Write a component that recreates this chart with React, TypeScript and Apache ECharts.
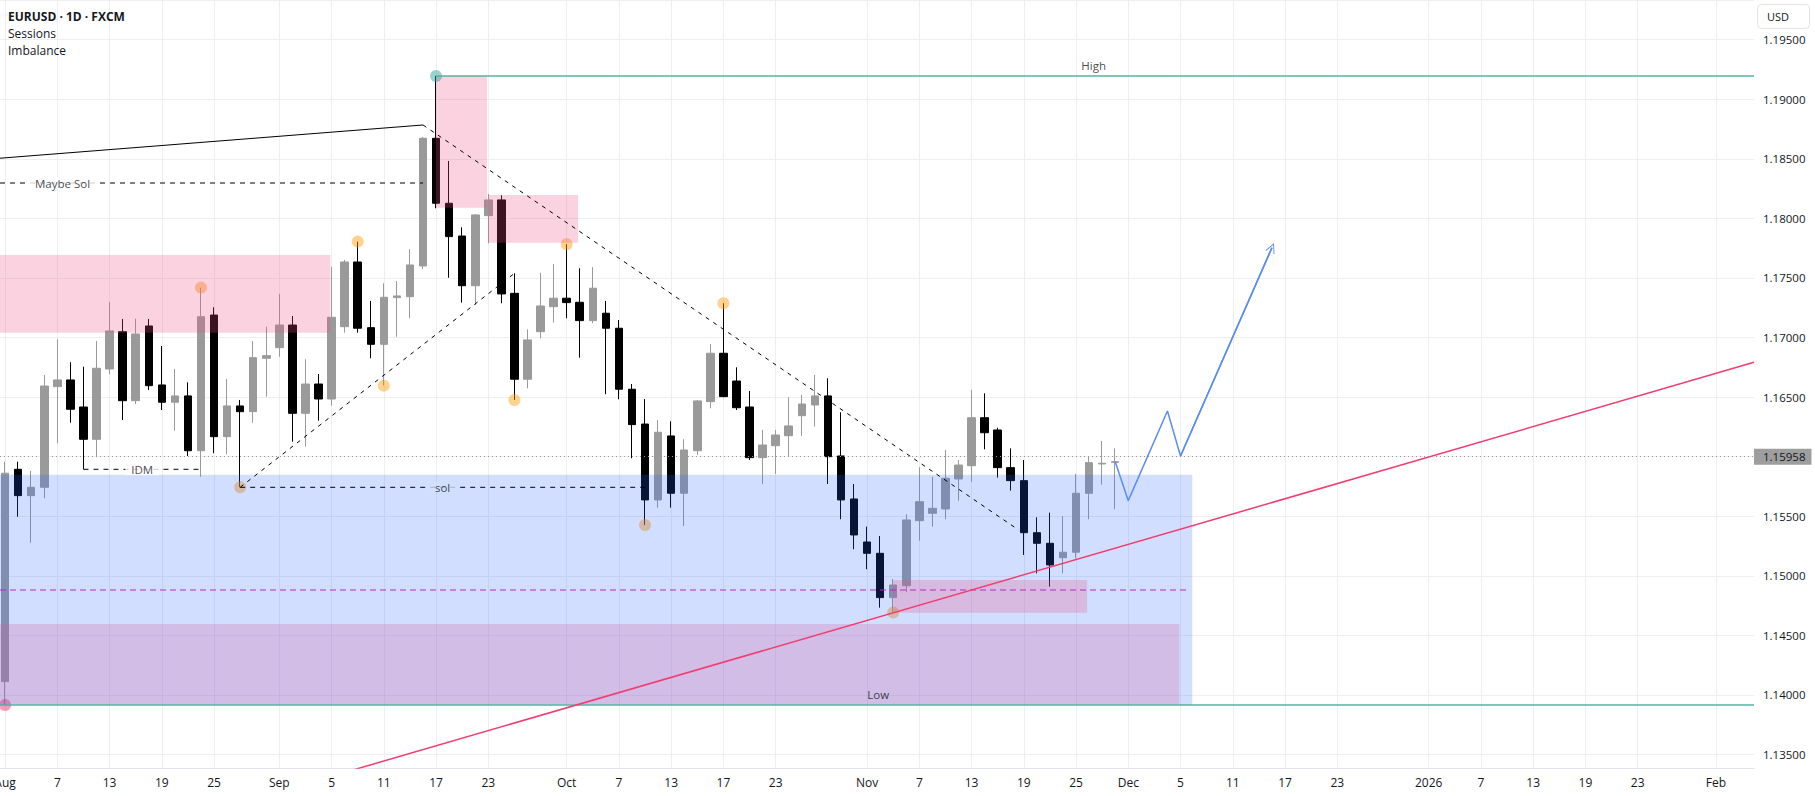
import React, { useEffect, useRef } from "react";
import * as echarts from "echarts";

// Session calendar of the time scale (weekdays only)
const FIRST_SESSION = "2025-08-01";
const LAST_SESSION = "2026-02-06";

// EURUSD daily bars: date, open, high, low, close
const candles: [string, number, number, number, number][] = [
  ["2025-08-01", 1.14112, 1.15958, 1.13916, 1.15861],
  ["2025-08-04", 1.15894, 1.15958, 1.15496, 1.15673],
  ["2025-08-05", 1.15673, 1.1588, 1.15278, 1.15743],
  ["2025-08-06", 1.15743, 1.16686, 1.15651, 1.16593],
  ["2025-08-07", 1.16588, 1.16985, 1.16112, 1.16644],
  ["2025-08-08", 1.16644, 1.16792, 1.16285, 1.16398],
  ["2025-08-11", 1.16417, 1.16755, 1.15894, 1.16146],
  ["2025-08-12", 1.16146, 1.16971, 1.15995, 1.16742],
  ["2025-08-13", 1.16736, 1.17298, 1.16692, 1.17055],
  ["2025-08-14", 1.17049, 1.17156, 1.16308, 1.1647],
  ["2025-08-15", 1.1647, 1.17158, 1.16442, 1.1703],
  ["2025-08-18", 1.17097, 1.17156, 1.1656, 1.16596],
  ["2025-08-19", 1.16602, 1.16929, 1.16392, 1.16457],
  ["2025-08-20", 1.16457, 1.16736, 1.16218, 1.1651],
  ["2025-08-21", 1.1651, 1.16624, 1.16006, 1.1605],
  ["2025-08-22", 1.1605, 1.17419, 1.15832, 1.17175],
  ["2025-08-25", 1.17189, 1.17254, 1.16029, 1.16168],
  ["2025-08-26", 1.16168, 1.16652, 1.1602, 1.16426],
  ["2025-08-27", 1.16426, 1.16476, 1.15743, 1.16378],
  ["2025-08-28", 1.16378, 1.16971, 1.16285, 1.16831],
  ["2025-08-29", 1.16826, 1.17091, 1.16504, 1.16848],
  ["2025-09-01", 1.16915, 1.17366, 1.16839, 1.17105],
  ["2025-09-02", 1.17105, 1.17181, 1.16126, 1.16364],
  ["2025-09-03", 1.16364, 1.16818, 1.16084, 1.1661],
  ["2025-09-04", 1.1661, 1.16694, 1.16302, 1.16484],
  ["2025-09-05", 1.16484, 1.17595, 1.16428, 1.1717],
  ["2025-09-08", 1.17091, 1.17651, 1.17041, 1.17634],
  ["2025-09-09", 1.17634, 1.17805, 1.17041, 1.17078],
  ["2025-09-10", 1.17083, 1.17307, 1.16826, 1.16943],
  ["2025-09-11", 1.16943, 1.17455, 1.16596, 1.17338],
  ["2025-09-12", 1.17335, 1.17475, 1.17007, 1.17349],
  ["2025-09-15", 1.17343, 1.17741, 1.17162, 1.17609],
  ["2025-09-16", 1.17601, 1.18683, 1.17575, 1.18672],
  ["2025-09-17", 1.18672, 1.19195, 1.18085, 1.18127],
  ["2025-09-18", 1.18127, 1.18482, 1.17502, 1.17847],
  ["2025-09-19", 1.17852, 1.17925, 1.17293, 1.17435],
  ["2025-09-22", 1.17435, 1.18037, 1.17273, 1.18029],
  ["2025-09-23", 1.18023, 1.18205, 1.17791, 1.18155],
  ["2025-09-24", 1.18155, 1.18194, 1.17288, 1.17366],
  ["2025-09-25", 1.17371, 1.17539, 1.16476, 1.1665],
  ["2025-09-26", 1.1665, 1.17069, 1.16574, 1.1698],
  ["2025-09-29", 1.17049, 1.17544, 1.16994, 1.17265],
  ["2025-09-30", 1.17259, 1.17617, 1.17125, 1.1733],
  ["2025-10-01", 1.1733, 1.17783, 1.17162, 1.17293],
  ["2025-10-02", 1.17296, 1.17581, 1.16831, 1.17142],
  ["2025-10-03", 1.17142, 1.1759, 1.1712, 1.17414],
  ["2025-10-06", 1.17204, 1.17307, 1.16524, 1.17078],
  ["2025-10-07", 1.17078, 1.17147, 1.16482, 1.16566],
  ["2025-10-08", 1.16566, 1.1661, 1.15987, 1.16269],
  ["2025-10-09", 1.16274, 1.16484, 1.15427, 1.15637],
  ["2025-10-10", 1.15637, 1.16308, 1.15572, 1.16205],
  ["2025-10-13", 1.16174, 1.16297, 1.15572, 1.15693],
  ["2025-10-14", 1.15693, 1.16146, 1.15418, 1.16056],
  ["2025-10-15", 1.1605, 1.16476, 1.16014, 1.16468],
  ["2025-10-16", 1.16462, 1.16946, 1.16406, 1.16868],
  ["2025-10-17", 1.16868, 1.17288, 1.16499, 1.16504],
  ["2025-10-20", 1.16635, 1.1675, 1.16392, 1.16411],
  ["2025-10-21", 1.16417, 1.16551, 1.15972, 1.15992],
  ["2025-10-22", 1.15992, 1.16224, 1.15771, 1.16098],
  ["2025-10-23", 1.16092, 1.16224, 1.15855, 1.16182],
  ["2025-10-24", 1.16176, 1.16499, 1.16006, 1.16258],
  ["2025-10-27", 1.16344, 1.16518, 1.16176, 1.16442],
  ["2025-10-28", 1.16434, 1.16686, 1.16252, 1.1651],
  ["2025-10-29", 1.1651, 1.16658, 1.15771, 1.16],
  ["2025-10-30", 1.16006, 1.16373, 1.15475, 1.15637],
  ["2025-10-31", 1.15645, 1.15771, 1.15223, 1.15343],
  ["2025-11-03", 1.15284, 1.15413, 1.15055, 1.15189],
  ["2025-11-04", 1.15189, 1.15334, 1.14733, 1.14817],
  ["2025-11-05", 1.14817, 1.14974, 1.14692, 1.14923],
  ["2025-11-06", 1.14917, 1.15517, 1.14862, 1.15469],
  ["2025-11-07", 1.15463, 1.15911, 1.15295, 1.15622],
  ["2025-11-10", 1.15525, 1.15832, 1.15413, 1.15567],
  ["2025-11-11", 1.15561, 1.16056, 1.15475, 1.15819],
  ["2025-11-12", 1.15813, 1.15972, 1.15631, 1.1593],
  ["2025-11-13", 1.15924, 1.1656, 1.1579, 1.16327],
  ["2025-11-14", 1.16327, 1.16532, 1.16062, 1.16201],
  ["2025-11-17", 1.16224, 1.16243, 1.15824, 1.15908],
  ["2025-11-18", 1.15908, 1.1607, 1.15715, 1.15799],
  ["2025-11-19", 1.15799, 1.15972, 1.15175, 1.15362],
  ["2025-11-20", 1.15362, 1.15491, 1.15021, 1.15273],
  ["2025-11-21", 1.15273, 1.1553, 1.14909, 1.15091],
  ["2025-11-24", 1.15152, 1.15502, 1.15021, 1.15198],
  ["2025-11-25", 1.15198, 1.15855, 1.15147, 1.15693],
  ["2025-11-26", 1.15693, 1.16006, 1.15475, 1.1595],
  ["2025-11-27", 1.15939, 1.16132, 1.15765, 1.15945],
  ["2025-11-28", 1.15953, 1.1607, 1.15559, 1.15958],
];

// Time-scale labels: session date → text
const xTicks: [string, string][] = [
  ["2025-08-01", "Aug"], ["2025-08-07", "7"], ["2025-08-13", "13"], ["2025-08-19", "19"], ["2025-08-25", "25"],
  ["2025-09-01", "Sep"], ["2025-09-05", "5"], ["2025-09-11", "11"], ["2025-09-17", "17"], ["2025-09-23", "23"],
  ["2025-10-01", "Oct"], ["2025-10-07", "7"], ["2025-10-13", "13"], ["2025-10-17", "17"], ["2025-10-23", "23"],
  ["2025-11-03", "Nov"], ["2025-11-07", "7"], ["2025-11-13", "13"], ["2025-11-19", "19"], ["2025-11-25", "25"],
  ["2025-12-01", "Dec"], ["2025-12-05", "5"], ["2025-12-11", "11"], ["2025-12-17", "17"], ["2025-12-23", "23"],
  ["2026-01-01", "2026"], ["2026-01-07", "7"], ["2026-01-13", "13"], ["2026-01-19", "19"], ["2026-01-23", "23"],
  ["2026-02-02", "Feb"],
];

// Visible window, in bars since the first session and in price
const X_MIN = -0.39;
const X_MAX = 133.91;
const Y_MIN = 1.13387;
const Y_MAX = 1.19833;

// Swing pivots marked with dots
const swingDots: [string, "high" | "low"][] = [
  ["2025-08-22", "high"], ["2025-08-27", "low"], ["2025-09-09", "high"], ["2025-09-11", "low"],
  ["2025-09-25", "low"], ["2025-10-01", "high"], ["2025-10-09", "low"], ["2025-10-17", "high"],
  ["2025-11-05", "low"],
];
const highPivot = "2025-09-17";
const lowPivot = "2025-08-01";

// Zones: [from bar, to bar, upper price, lower price]
const supplyZones: number[][] = [
  [X_MIN, 24.9, 1.17693, 1.17041],
  [33, 36.9, 1.19195, 1.1809],
  [37, 43.87, 1.18197, 1.17796],
];
const rangeZone = [X_MIN, 90.9, 1.15848, 1.13914];
const lowerImbalance = [X_MIN, 89.9, 1.14596, 1.13922];
const gapZone = [68, 82.85, 1.14965, 1.14691];

// Levels and drawn lines ([bar, price] points)
const maybeSolLevel = 1.18297;
const rangeMid = 1.14881;
const upperTrend = [[X_MIN, 1.18505], [32, 1.18784]];
const fallLine = [[32, 1.18784], [77.6, 1.15385]];
const supportTrend = [[26, 1.1335], [X_MAX, 1.16792]];
const projection = [[85, 1.15958], [86, 1.15631], [89, 1.16384], [90, 1.16006], [97, 1.17754]];

function buildSessions(start: string, end: string): string[] {
  const out: string[] = [];
  const d = new Date(start + "T00:00:00Z");
  const e = new Date(end + "T00:00:00Z");
  while (d <= e) {
    const wd = d.getUTCDay();
    if (wd !== 0 && wd !== 6) out.push(d.toISOString().slice(0, 10));
    d.setUTCDate(d.getUTCDate() + 1);
  }
  return out;
}

const sessions = buildSessions(FIRST_SESSION, LAST_SESSION);
const bar = (date: string) => sessions.indexOf(date);
const candleOf = (date: string) => candles.find((c) => c[0] === date)!;
const highOf = (date: string) => candleOf(date)[2];
const lowOf = (date: string) => candleOf(date)[3];
const lastClose = candles[candles.length - 1][4];

const FONT = "Open Sans";
const TEXT = "#131722";
const GRID = "#eeeff3";
const PINK_FILL = "rgba(235,76,130,0.25)";
const BLUE_FILL = "rgba(41,98,255,0.21)";
const PURPLE_FILL = "rgba(206,90,155,0.25)";
const BLUE_ON_WHITE = "#d2deff";

function buildOption(): echarts.EChartsOption {
  const tickIdx = xTicks.map(([d]) => bar(d));
  const tickText = new Map<number, string>(xTicks.map(([d, t]) => [bar(d), t]));

  const zoneRows = [
    ...supplyZones.map((z) => [...z, 0]),
    [...rangeZone, 1],
    [...lowerImbalance, 2],
    [...gapZone, 0],
  ];
  const zoneFills = [PINK_FILL, BLUE_FILL, PURPLE_FILL];

  const seg = (pts: number[][], color: string, width: number, type: any, z = 6) => ({
    type: "line" as const,
    data: pts,
    symbol: "none",
    silent: true,
    z,
    lineStyle: { color, width, type },
  });

  const textMark = (text: string, x: number, y: number, extra: any = {}) => ({
    name: text,
    value: [x, y],
    label: { show: true, position: "inside", ...extra },
  });

  const idmFrom = bar("2025-08-11");
  const idmTo = bar("2025-08-22");
  const solFrom = bar("2025-08-27");
  const solTo = bar("2025-10-09");

  return {
    animation: false,
    backgroundColor: "#ffffff",
    textStyle: { fontFamily: FONT },
    grid: { left: 0, right: 61, top: 0, bottom: 28, containLabel: false, outerBoundsMode: "none" } as any,
    xAxis: {
      type: "value",
      min: X_MIN,
      max: X_MAX,
      axisLine: { show: true, lineStyle: { color: "#e0e3eb" } },
      axisTick: { show: false, customValues: tickIdx } as any,
      axisLabel: {
        customValues: tickIdx,
        formatter: (v: number) => tickText.get(Math.round(v)) ?? "",
        color: TEXT,
        fontSize: 12,
        fontFamily: FONT,
        margin: 8,
      } as any,
      splitLine: { show: true, lineStyle: { color: GRID } },
    },
    yAxis: {
      type: "value",
      position: "right",
      min: Y_MIN,
      max: Y_MAX,
      splitNumber: 13,
      minInterval: 0.005,
      maxInterval: 0.005,
      axisLine: { show: false },
      axisTick: { show: false },
      axisLabel: {
        formatter: (v: number) => v.toFixed(5),
        showMinLabel: false,
        showMaxLabel: false,
        color: TEXT,
        fontSize: 11.5,
        fontFamily: FONT,
        margin: 9,
      },
      splitLine: { show: true, lineStyle: { color: GRID } },
    },
    graphic: [
      { type: "text", z: 20, x: 8, y: 16.5, style: { text: "EURUSD · 1D · FXCM", font: `bold 12px "${FONT}"`, fill: TEXT, verticalAlign: "middle" } },
      { type: "text", z: 20, x: 8, y: 33.5, style: { text: "Sessions", font: `12px "${FONT}"`, fill: TEXT, verticalAlign: "middle" } },
      { type: "text", z: 20, x: 8, y: 50.5, style: { text: "Imbalance", font: `12px "${FONT}"`, fill: TEXT, verticalAlign: "middle" } },
      { type: "rect", z: 20, shape: { x: 1757.5, y: 4.5, width: 52, height: 24, r: 4 }, style: { fill: "#ffffff", stroke: "#e0e3eb", lineWidth: 1 } },
      { type: "text", z: 21, x: 1767, y: 16.5, style: { text: "USD", font: `11px "${FONT}"`, fill: TEXT, verticalAlign: "middle" } },
    ] as any,
    series: [
      {
        type: "candlestick",
        data: candles.map(([d, o, h, l, c]) => [bar(d), o, c, l, h]),
        barWidth: 8,
        z: 2,
        silent: true,
        itemStyle: {
          color: "#9a9a9a",
          color0: "#000000",
          borderColor: "#9a9a9a",
          borderColor0: "#000000",
          borderWidth: 1,
        },
        markLine: {
          silent: true,
          symbol: ["none", "none"],
          z: 7,
          data: [{ yAxis: lastClose }],
          lineStyle: { color: "#9598a1", width: 1, type: [1, 3] },
          label: {
            position: "end",
            distance: 0,
            formatter: () => lastClose.toFixed(5),
            backgroundColor: "#9e9e9e",
            color: TEXT,
            padding: [2, 6, 2, 9],
            fontSize: 11.5,
            fontFamily: FONT,
          },
        },
      } as any,
      {
        type: "scatter",
        silent: true,
        z: 3,
        symbolSize: 12,
        data: [
          ...swingDots.map(([d, k]) => ({
            value: [bar(d), k === "high" ? highOf(d) : lowOf(d)],
            itemStyle: { color: "rgba(255,152,0,0.55)" },
          })),
          { value: [bar(highPivot), highOf(highPivot)], itemStyle: { color: "rgba(38,166,154,0.6)" } },
          { value: [bar(lowPivot), lowOf(lowPivot)], itemStyle: { color: "rgba(233,30,99,0.55)" } },
        ],
      },
      {
        type: "custom",
        silent: true,
        z: 4,
        data: zoneRows,
        encode: { x: [0, 1], y: [2, 3] },
        renderItem: (_p: any, api: any) => {
          const a = api.coord([api.value(0), api.value(2)]);
          const b = api.coord([api.value(1), api.value(3)]);
          return {
            type: "rect",
            shape: { x: a[0], y: a[1], width: b[0] - a[0], height: b[1] - a[1] },
            style: { fill: zoneFills[api.value(4)] },
          };
        },
      } as any,
      seg([[bar(highPivot), highOf(highPivot)], [X_MAX, highOf(highPivot)]], "#52b3a0", 1.5, "solid"),
      seg([[X_MIN, lowOf(lowPivot)], [X_MAX, lowOf(lowPivot)]], "#52b3a0", 1.5, "solid"),
      seg([[X_MIN, rangeMid], [90.7, rangeMid]], "#b02ec0", 1.2, [6, 4]),
      seg(supportTrend, "#f23c6e", 1.5, "solid"),
      seg(upperTrend, "#000000", 1, "solid"),
      seg(fallLine, "#000000", 1, [4, 5]),
      seg([[solFrom, lowOf("2025-08-27")], [bar("2025-09-25"), highOf("2025-09-25")]], "#000000", 1, [4, 5]),
      seg([[X_MIN, maybeSolLevel], [32, maybeSolLevel]], "#000000", 1, [5, 5]),
      seg([[idmFrom, lowOf("2025-08-11")], [idmTo, lowOf("2025-08-11")]], "#000000", 1, [5, 5]),
      seg([[solFrom, lowOf("2025-08-27")], [solTo, lowOf("2025-08-27")]], "#000000", 1, [5, 5]),
      {
        ...seg(projection, "#5b8def", 1.5, "solid"),
        markLine: {
          silent: true,
          symbol: ["none", "path://M0,10 L5,0 L10,10 L9,10 L5,2 L1,10 Z"],
          symbolSize: 10,
          data: [[{ coord: projection[3] }, { coord: projection[4] }]],
          lineStyle: { color: "#5b8def", width: 1.5, type: "solid" },
          label: { show: false },
        },
      } as any,
      {
        type: "scatter",
        silent: true,
        z: 8,
        symbolSize: 1,
        itemStyle: { color: "rgba(0,0,0,0)" },
        label: { show: true, formatter: "{b}", color: TEXT, fontSize: 11.5, fontFamily: FONT },
        data: [
          textMark("Maybe Sol", 4.4, maybeSolLevel, { backgroundColor: "#ffffff", padding: [0, 7] }),
          textMark("IDM", (idmFrom + idmTo) / 2, lowOf("2025-08-11"), { backgroundColor: "#ffffff", padding: [0, 6] }),
          textMark("sol", (solFrom + solTo) / 2, lowOf("2025-08-27"), { backgroundColor: BLUE_ON_WHITE, padding: [0, 6] }),
          textMark("High", 83.35, highOf(highPivot), { position: "top", distance: 4 }),
          textMark("Low", 66.85, lowOf(lowPivot), { position: "top", distance: 4 }),
        ],
      } as any,
    ],
  };
}

export default function App() {
  const ref = useRef<HTMLDivElement>(null);
  useEffect(() => {
    if (!ref.current) return;
    const chart = echarts.init(ref.current, undefined, { renderer: "svg" });
    chart.setOption(buildOption());
    return () => chart.dispose();
  }, []);
  return (
    <div
      ref={ref}
      style={{ position: "fixed", left: 0, top: 0, width: 1815, height: 796, background: "#ffffff" }}
    />
  );
}
